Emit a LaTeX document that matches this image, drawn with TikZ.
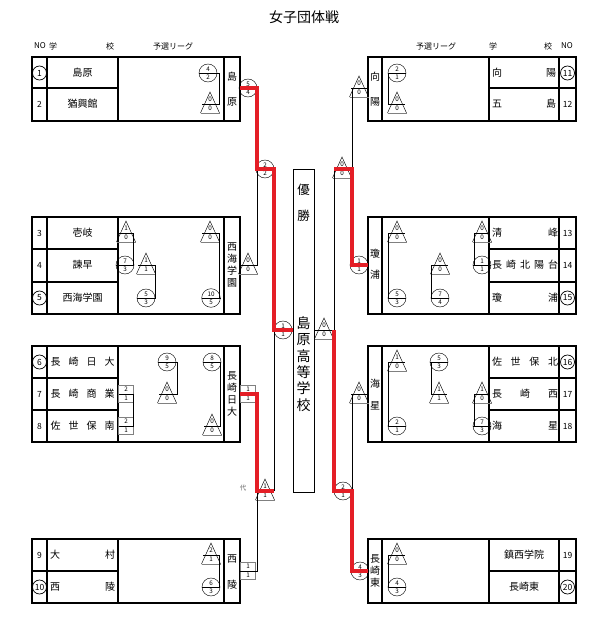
\documentclass[tikz,border=0pt]{standalone}
\usepackage{fontspec}
\setmainfont{Noto Sans CJK JP}
\usetikzlibrary{shapes.multipart,positioning}

\definecolor{winred}{RGB}{228,30,38}
\newcommand{\spreadname}[2]{\makebox[#1][s]{#2}}

\begin{document}
\begin{tikzpicture}[x=1pt, y=-1pt,
    boxline/.style={draw, line width=1.2pt},
    bracket/.style={line width=0.8pt},
    win/.style={draw=winred, line width=3.4pt},
    score/.style={
        circle split, draw, line width=0.45pt,
        minimum size=18pt, inner sep=1.5pt,
        font=\fontsize{6.3}{6.3}\selectfont
    },
    tiny num/.style={font=\fontsize{6.3}{6.3}\selectfont, inner sep=0pt},
    school/.style={font=\fontsize{10}{12}\selectfont, inner sep=0pt},
    winner/.style={font=\fontsize{10}{12}\selectfont, inner sep=0pt, align=center},
    entry/.style={font=\fontsize{8.5}{8.5}\selectfont, inner sep=0pt},
    circled/.style={entry, circle, draw, line width=0.7pt, minimum size=14pt},
    head/.style={font=\fontsize{8}{8}\selectfont, inner sep=0pt},
    pics/tri/.style 2 args={code={
        \draw[line width=0.45pt] (-9.5,9) -- (0,-12) -- (9.5,9);
        \draw[line width=0.45pt, gray] (-9.5,9) -- (9.5,9);
        \draw[line width=0.7pt] (-8,0) -- (8,0);
        \node[tiny num] at (0,-4.4) {#1};
        \node[tiny num] at (0,4.7) {#2};
    }},
    pics/sq/.style 2 args={code={
        \draw[line width=0.5pt, gray] (-7.5,-8.5) rectangle (7.5,8.5);
        \draw[line width=0.7pt] (-7.5,0) -- (7.5,0);
        \node[tiny num] at (0,-4.4) {#1};
        \node[tiny num] at (0,4.7) {#2};
    }}
]
\useasboundingbox (0,0) rectangle (599,618);

% Title and headings
\node[font=\fontsize{14}{14}\selectfont] (title) at (304,17) {女子団体戦};
\node[head] (hNoL) at (40,46) {NO};
\node[head] (hGakuL) at (53,46) {学};
\node[head] (hKouL) at (110,46) {校};
\node[head] (hLgL) at (173,46) {予選リーグ};
\node[head] (hLgR) at (436,46) {予選リーグ};
\node[head] (hGakuR) at (493,46) {学};
\node[head] (hKouR) at (548,46) {校};
\node[head] (hNoR) at (567,46) {NO};

% Left boxes
\foreach \t/\b in {57/121, 217/314, 346/442, 539/603} {
    \draw[boxline] (32,\t) rectangle (240,\b);
    \draw[boxline] (47,\t) -- (47,\b) (118,\t) -- (118,\b) (224,\t) -- (224,\b);
}
\foreach \y in {88, 249, 282, 378, 410, 571}
    \draw[boxline] (32,\y) -- (118,\y);

% Right boxes
\foreach \t/\b in {57/121, 217/314, 346/442, 539/603} {
    \draw[boxline] (368,\t) rectangle (576,\b);
    \draw[boxline] (382,\t) -- (382,\b) (489,\t) -- (489,\b) (559,\t) -- (559,\b);
}
\foreach \y in {88, 249, 282, 378, 410, 571}
    \draw[boxline] (489,\y) -- (576,\y);

% Champion box
\draw[line width=0.9pt] (293,169) rectangle (314,492);
\node[font=\fontsize{12.5}{26}\selectfont, align=center, inner sep=0pt] (yusho) at (303.5,203) {優\\勝};
\node[font=\fontsize{14}{16.4}\selectfont, align=center, inner sep=0pt] (champ) at (303.5,364) {島\\原\\高\\等\\学\\校};

% Entry numbers, left
\node[circled] (n1) at (39.5,73) {1};
\node[entry] (n2) at (39.5,104) {2};
\node[entry] (n3) at (39.5,233) {3};
\node[entry] (n4) at (39.5,265) {4};
\node[circled] (n5) at (39.5,298) {5};
\node[circled] (n6) at (39.5,362) {6};
\node[entry] (n7) at (39.5,394) {7};
\node[entry] (n8) at (39.5,426) {8};
\node[entry] (n9) at (39.5,555) {9};
\node[circled] (n10) at (39.5,587) {10};

% Entry numbers, right
\node[circled] (n11) at (567.5,73) {11};
\node[entry] (n12) at (567.5,104) {12};
\node[entry] (n13) at (567.5,233) {13};
\node[entry] (n14) at (567.5,265) {14};
\node[circled] (n15) at (567.5,298) {15};
\node[circled] (n16) at (567.5,362) {16};
\node[entry] (n17) at (567.5,394) {17};
\node[entry] (n18) at (567.5,426) {18};
\node[entry] (n19) at (567.5,555) {19};
\node[circled] (n20) at (567.5,587) {20};

% Schools, left
\node[school] (s1) at (82.5,73) {島原};
\node[school] (s2) at (82.5,104) {猶興館};
\node[school] (s3) at (82.5,233) {壱岐};
\node[school] (s4) at (82.5,265) {諫早};
\node[school] (s5) at (82.5,298) {西海学園};
\node[school] (s6) at (82.5,362) {\spreadname{64pt}{長\hfill 崎\hfill 日\hfill 大}};
\node[school] (s7) at (82.5,394) {\spreadname{64pt}{長\hfill 崎\hfill 商\hfill 業}};
\node[school] (s8) at (82.5,426) {\spreadname{64pt}{佐\hfill 世\hfill 保\hfill 南}};
\node[school] (s9) at (82.5,555) {\spreadname{65pt}{大\hfill 村}};
\node[school] (s10) at (82.5,587) {\spreadname{65pt}{西\hfill 陵}};

% Schools, right
\node[school] (s11) at (524,73) {\spreadname{64pt}{向\hfill 陽}};
\node[school] (s12) at (524,104) {\spreadname{64pt}{五\hfill 島}};
\node[school] (s13) at (525,233) {\spreadname{66pt}{清\hfill 峰}};
\node[school] (s14) at (525,265) {\spreadname{66pt}{長\hfill 崎\hfill 北\hfill 陽\hfill 台}};
\node[school] (s15) at (525,298) {\spreadname{66pt}{瓊\hfill 浦}};
\node[school] (s16) at (525,362) {\spreadname{66pt}{佐\hfill 世\hfill 保\hfill 北}};
\node[school] (s17) at (525,394) {\spreadname{66pt}{長\hfill 崎\hfill 西}};
\node[school] (s18) at (525,426) {\spreadname{66pt}{海\hfill 星}};
\node[school] (s19) at (524,555) {鎮西学院};
\node[school] (s20) at (524,587) {長崎東};

% Block winners
\node[winner] (vL1) at (232,89.5) {島\\[13pt]原};
\node[winner] (vL2) at (232,265.5) {西\\海\\学\\園};
\node[winner] (vL3) at (232,394) {長\\崎\\日\\大};
\node[winner] (vL4) at (232,572) {西\\[14pt]陵};
\node[winner] (vR1) at (375,89.5) {向\\[13pt]陽};
\node[winner] (vR2) at (375,264.5) {瓊\\[9pt]浦};
\node[winner] (vR3) at (375,395) {海\\[10pt]星};
\node[winner] (vR4) at (375,571) {長\\崎\\東};

% League, left
\node[score] (a1) at (208,73) {4\nodepart{lower}2};
\coordinate (a2) at (210,104); \pic at (a2) {tri={0}{0}};
\draw[bracket] (a1) -- ++(11,0) |- (a2);

\coordinate (b1) at (126,233); \pic at (b1) {tri={1}{0}};
\node[score] (b2) at (125,265) {7\nodepart{lower}3};
\draw[bracket] (b1) -- ++(7,0) |- (b2);
\coordinate (b3) at (146,265); \pic at (b3) {tri={1}{1}};
\node[score] (b4) at (146,298) {5\nodepart{lower}3};
\draw[bracket] (b3) -- ++(9,0) |- (b4);
\coordinate (b5) at (210,233); \pic at (b5) {tri={0}{0}};
\node[score] (b6) at (211,298) {10\nodepart{lower}5};
\draw[bracket] (b5) -- ++(9,0) |- (b6);

\node[score] (c1) at (167,362) {9\nodepart{lower}5};
\coordinate (c2) at (167,394); \pic at (c2) {tri={0}{0}};
\draw[bracket] (c1) -- ++(10,0) |- (c2);
\coordinate (c3) at (126,394); \pic at (c3) {sq={2}{1}};
\coordinate (c4) at (126,426); \pic at (c4) {sq={2}{1}};
\draw[bracket] (c3) -- ++(7,0) |- (c4);
\node[score] (c5) at (212,362) {8\nodepart{lower}5};
\coordinate (c6) at (212,426); \pic at (c6) {tri={0}{0}};
\draw[bracket] (c5) -- ++(8,0) |- (c6);

\coordinate (d1) at (211,555); \pic at (d1) {tri={2}{1}};
\node[score] (d2) at (211,587) {6\nodepart{lower}3};
\draw[bracket] (d1) -- ++(8,0) |- (d2);

% League, right
\node[score] (e1) at (397,73) {2\nodepart{lower}1};
\coordinate (e2) at (397,104); \pic at (e2) {tri={0}{0}};
\draw[bracket] (e1) -- ++(-9,0) |- (e2);

\coordinate (f1) at (397,233); \pic at (f1) {tri={0}{0}};
\node[score] (f2) at (397,298) {5\nodepart{lower}3};
\draw[bracket] (f1) -- ++(-9,0) |- (f2);
\coordinate (f3) at (440,265); \pic at (f3) {tri={0}{0}};
\node[score] (f4) at (440,298) {7\nodepart{lower}4};
\draw[bracket] (f3) -- ++(-9,0) |- (f4);
\coordinate (f5) at (482,233); \pic at (f5) {tri={0}{0}};
\node[score] (f6) at (482,265) {1\nodepart{lower}1};
\draw[bracket] (f5) -- ++(-8,0) |- (f6);

\coordinate (g1) at (397,362); \pic at (g1) {tri={1}{0}};
\node[score] (g2) at (397,426) {2\nodepart{lower}1};
\draw[bracket] (g1) -- ++(-9,0) |- (g2);
\node[score] (g3) at (439,362) {5\nodepart{lower}3};
\coordinate (g4) at (439,394); \pic at (g4) {tri={1}{1}};
\draw[bracket] (g3) -- ++(-8,0) |- (g4);
\coordinate (g5) at (482,394); \pic at (g5) {tri={1}{0}};
\node[score] (g6) at (482,426) {7\nodepart{lower}3};
\draw[bracket] (g5) -- ++(-8,0) |- (g6);

\coordinate (k1) at (397,555); \pic at (k1) {tri={0}{0}};
\node[score] (k2) at (397,587) {4\nodepart{lower}3};
\draw[bracket] (k1) -- ++(-9,0) |- (k2);

% Tournament points
\coordinate (wL1) at (240,88);  \coordinate (wR1) at (368,88);
\coordinate (wL2) at (240,265); \coordinate (wR2) at (368,265);
\coordinate (wL3) at (240,394); \coordinate (wR3) at (368,394);
\coordinate (wL4) at (240,571); \coordinate (wR4) at (368,571);
\coordinate (qL1) at (257,169); \coordinate (qR1) at (352,169);
\coordinate (qL2) at (257,491); \coordinate (qR2) at (352,491);
\coordinate (sL1) at (274,169); \coordinate (sR1) at (334,169);
\coordinate (sL2) at (274,491); \coordinate (sR2) at (334,491);
\coordinate (fLx) at (274,330); \coordinate (fRx) at (334,330);
\coordinate (fL) at (293,330);  \coordinate (fR) at (314,330);

% Tournament scores
\node[score] (m1) at (248,88) {5\nodepart{lower}4};
\coordinate (m2) at (248,265); \pic at (m2) {tri={0}{0}};
\node[score] (m3) at (265,169) {2\nodepart{lower}2};
\node[score] (m4) at (283,330) {1\nodepart{lower}1};
\coordinate (m5) at (248,394); \pic at (m5) {sq={1}{1}};
\coordinate (m6) at (265,491); \pic at (m6) {tri={1}{1}};
\node[font=\fontsize{6.5}{6.5}\selectfont, text=gray!80!black, inner sep=0pt] (dai) at (243,488) {代};
\coordinate (m7) at (248,571); \pic at (m7) {sq={1}{1}};
\coordinate (r1) at (359,88); \pic at (r1) {tri={0}{0}};
\coordinate (r2) at (342,169); \pic at (r2) {tri={0}{0}};
\node[score] (r3) at (359,265) {1\nodepart{lower}1};
\coordinate (r4) at (324,330); \pic at (r4) {tri={0}{0}};
\coordinate (r5) at (359,394); \pic at (r5) {tri={0}{0}};
\node[score] (r6) at (343,491) {2\nodepart{lower}1};
\node[score] (r7) at (360,571) {4\nodepart{lower}3};

% Bracket lines
\draw[bracket] (wL2) -| (qL1);
\draw[bracket] (wL4) -| (qL2);
\draw[bracket] (sL2) -- (fLx);
\draw[bracket] (wR1) -| (qR1);
\draw[bracket] (wR3) -| (qR2);
\draw[bracket] (sR1) -- (fRx);
\draw[bracket] (fR) -- (fRx);

% Winning path
\draw[win] (wL1) -| (qL1) -- (sL1) -- (fLx) -- (fL);
\draw[win] (wL3) -| (qL2) -- (sL2);
\draw[win] (wR2) -| (qR1) -- (sR1);
\draw[win] (wR4) -| (qR2) -- (sR2) -- (fRx);

\end{tikzpicture}
\end{document}
